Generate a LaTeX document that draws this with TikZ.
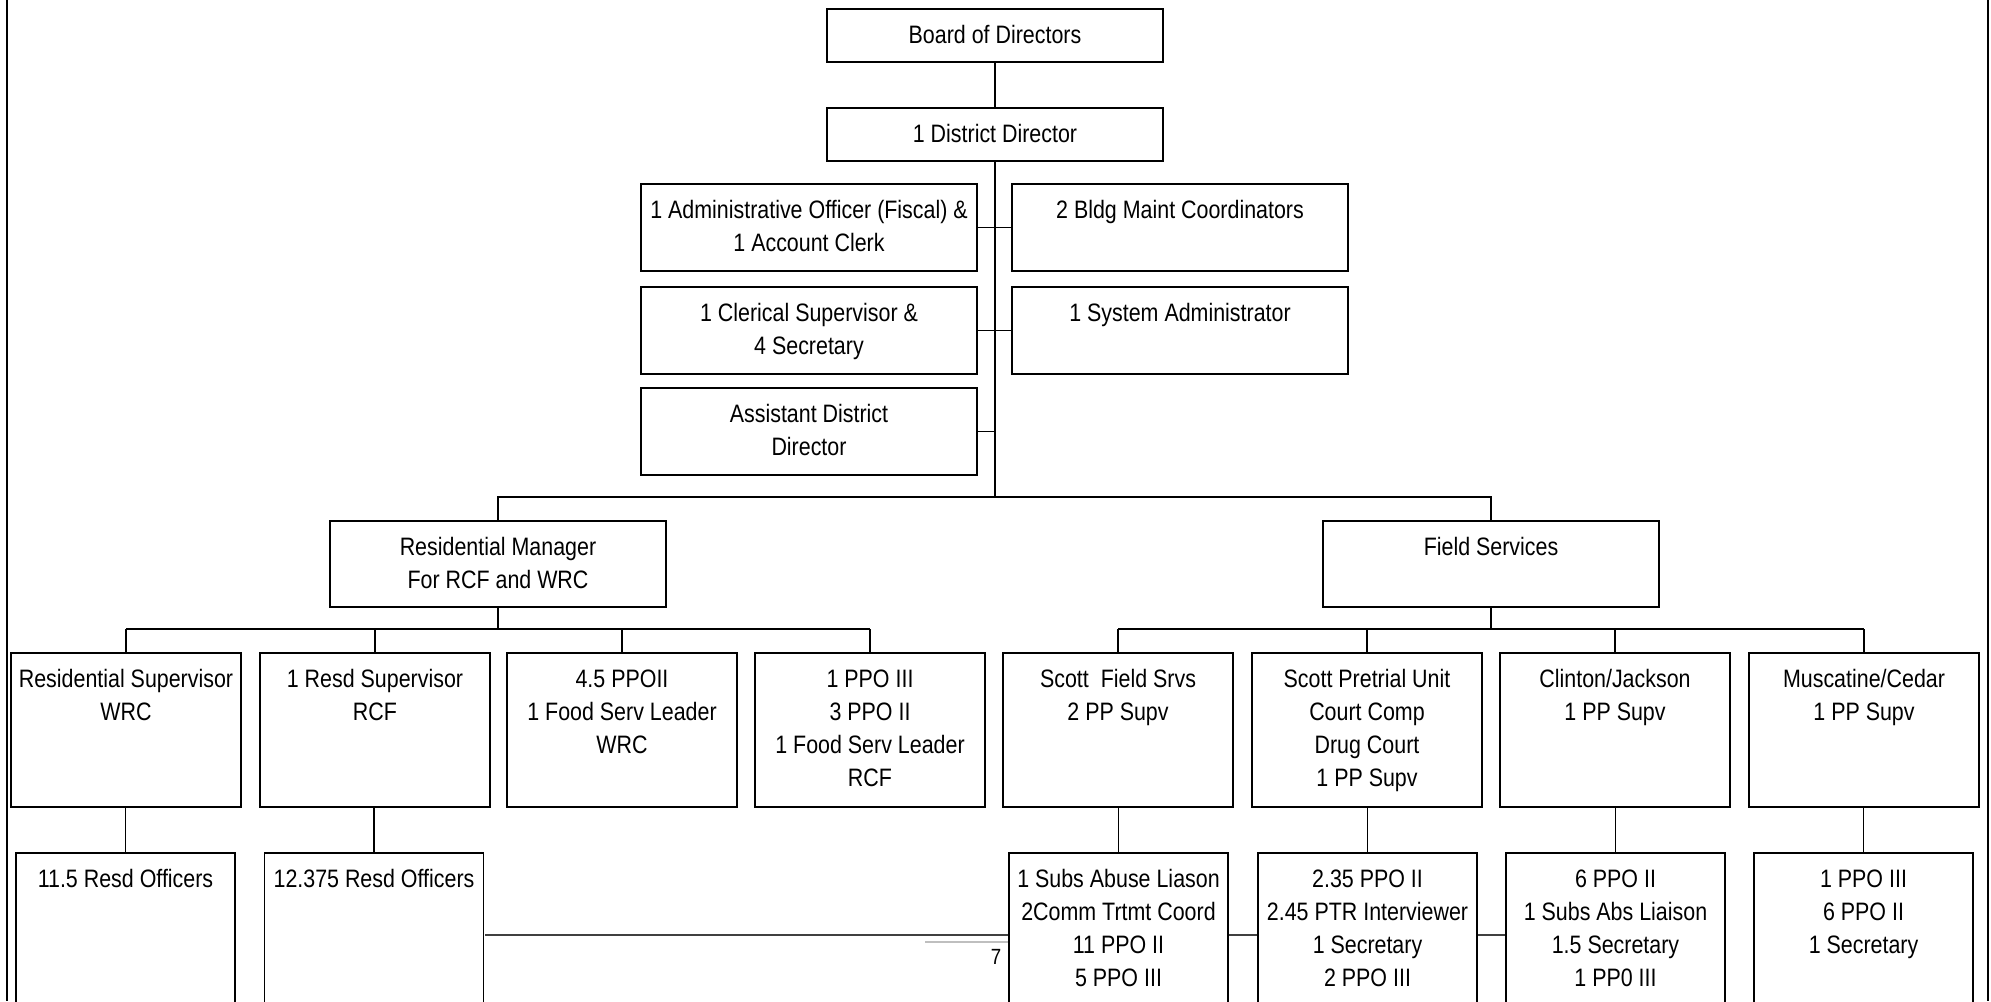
\documentclass[tikz,border=0pt]{standalone}
\usepackage{fontspec}
\setmainfont{Liberation Sans}[FakeStretch=0.85]

\tikzset{
  orgbox/.style={draw, fill=white, line width=0.9pt, anchor=north, inner sep=0pt},
  headbox/.style={orgbox, minimum width=168pt, minimum height=26.5pt},
  staffbox/.style={orgbox, minimum width=168pt, minimum height=43.5pt},
  unitbox/.style={orgbox, minimum width=115pt, minimum height=77pt},
  crewbox/.style={orgbox, minimum width=109.5pt, minimum height=100pt},
  boxtext/.style={anchor=north, align=center, inner sep=0pt, yshift=-8.5pt},
}

\begin{document}
\begin{tikzpicture}[x=0.5pt, y=-0.5pt, line width=0.6pt, font=\fontsize{12.6}{16.5}\selectfont]
\useasboundingbox (0,0) rectangle (1991,1001);
\clip (0,0) rectangle (1991,1001);

% page frame and footer
\draw[line width=1.3pt] (7,0) -- (7,1001) (1988,0) -- (1988,1001);
\draw[black!75] (485,935) -- (1506,935);
\draw[black!25] (925,942) -- (1009,942);
\node[font=\fontsize{11}{13}\selectfont, anchor=base, inner sep=0pt] (pageno) at (996,964) {7};

% top
\node[headbox, label={[boxtext]north:Board of Directors}] (board) at (995,8) {};
\node[headbox, label={[boxtext]north:1 District Director}] (dd) at (995,107) {};
\node[staffbox, label={[boxtext]north:1 Administrative Officer (Fiscal) \&\\1 Account Clerk}] (admin) at (809,183) {};
\node[staffbox, label={[boxtext]north:2 Bldg Maint Coordinators}] (bldg) at (1180,183) {};
\node[staffbox, label={[boxtext]north:1 Clerical Supervisor \&\\4 Secretary}] (cler) at (809,286) {};
\node[staffbox, label={[boxtext]north:1 System Administrator}] (sysad) at (1180,286) {};
\node[staffbox, label={[boxtext]north:Assistant District\\Director}] (asst) at (809,387) {};

% managers
\node[staffbox, minimum height=43pt, label={[boxtext]north:Residential Manager\\For RCF and WRC}] (resmgr) at (498,520) {};
\node[staffbox, minimum height=43pt, label={[boxtext]north:Field Services}] (field) at (1491,520) {};

% units
\node[unitbox, label={[boxtext]north:Residential Supervisor\\WRC}] (u1) at (126,652) {};
\node[unitbox, label={[boxtext]north:1 Resd Supervisor\\RCF}] (u2) at (375,652) {};
\node[unitbox, label={[boxtext]north:4.5 PPOII\\1 Food Serv Leader\\WRC}] (u3) at (622,652) {};
\node[unitbox, label={[boxtext]north:1 PPO III\\3 PPO II\\1 Food Serv Leader\\RCF}] (u4) at (870,652) {};
\node[unitbox, label={[boxtext]north:Scott\ \ Field Srvs\\2 PP Supv}] (u5) at (1118,652) {};
\node[unitbox, label={[boxtext]north:Scott Pretrial Unit\\Court Comp\\Drug Court\\1 PP Supv}] (u6) at (1367,652) {};
\node[unitbox, label={[boxtext]north:Clinton/Jackson\\1 PP Supv}] (u7) at (1615,652) {};
\node[unitbox, label={[boxtext]north:Muscatine/Cedar\\1 PP Supv}] (u8) at (1864,652) {};

% staff under units
\node[crewbox, label={[boxtext]north:11.5 Resd Officers}] (c1) at (125.5,852) {};
\node[crewbox, label={[boxtext]north:12.375 Resd Officers}] (c2) at (374,852) {};
\node[crewbox, label={[boxtext]north:1 Subs Abuse Liason\\2Comm Trtmt Coord\\11 PPO II\\5 PPO III}] (c5) at (1118.5,852) {};
\node[crewbox, label={[boxtext]north:2.35 PPO II\\2.45 PTR Interviewer\\1 Secretary\\2 PPO III}] (c6) at (1367.5,852) {};
\node[crewbox, label={[boxtext]north:6 PPO II\\1 Subs Abs Liaison\\1.5 Secretary\\1 PP0 III}] (c7) at (1615.5,852) {};
\node[crewbox, label={[boxtext]north:1 PPO III\\6 PPO II\\1 Secretary}] (c8) at (1863.5,852) {};

% connectors
\coordinate (hub) at (995,497);
\coordinate (rbus) at (498,629);
\coordinate (fbus) at (1491,629);
\draw (board) -- (dd);
\draw (dd) -- (hub);
\draw (admin) -- (bldg);
\draw (cler) -- (sysad);
\draw (asst.east) -- (asst.east -| hub);
\draw (resmgr.north) |- (hub) -| (field.north);
\draw (resmgr) -- (rbus);
\draw (field) -- (fbus);
\draw (u1.north |- rbus) -- (u4.north |- rbus);
\draw (u5.north |- fbus) -- (u8.north |- fbus);
\foreach \u in {u1,u2,u3,u4,u5,u6,u7,u8}
  \draw (\u.north) -- (\u.north |- rbus);
\foreach \u/\c in {u1/c1,u2/c2,u5/c5,u6/c6,u7/c7,u8/c8}
  \draw (\u.south) -- (\u.south -| \c.north) -- (\c.north);
\end{tikzpicture}
\end{document}
